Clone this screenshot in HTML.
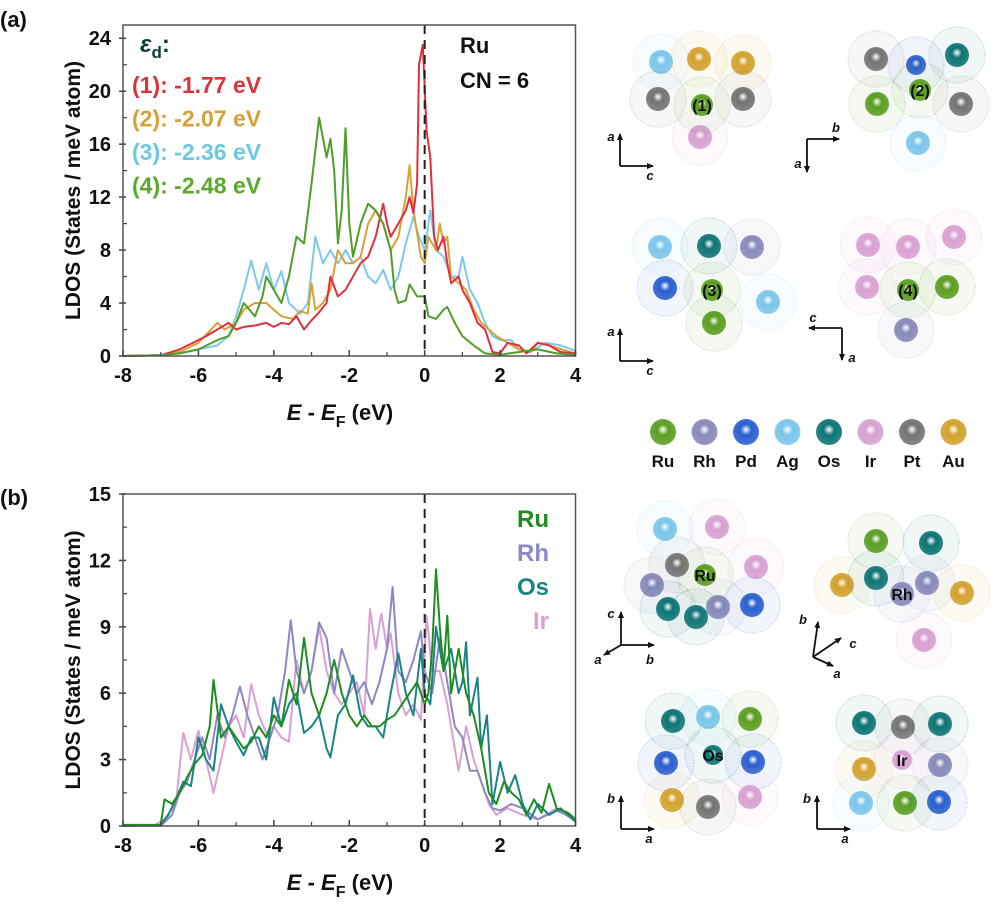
<!DOCTYPE html>
<html><head><meta charset="utf-8"><style>
body{margin:0;background:#fff}
svg{display:block;font-family:"Liberation Sans",Arial,sans-serif;font-weight:bold}
</style></head><body>
<svg id="fig" width="1000" height="923" viewBox="0 0 1000 923" xmlns="http://www.w3.org/2000/svg">
<defs id="defs">
<marker id="arr" markerWidth="8" markerHeight="8" refX="6" refY="4" orient="auto" markerUnits="userSpaceOnUse"><path d="M0,1 L7,4 L0,7 Z" fill="#111"/></marker>
</defs>
<g id="struct"></g>
<g id="panelA"></g>
<g id="panelB"></g>
</svg>
<script>
// ---------- Chart data ----------
const xTicks = [-8,-6,-4,-2,0,2,4];
const yTicksA = [0,4,8,12,16,20,24];
const yTicksB = [0,3,6,9,12,15];
const legendA = ["(1): -1.77 eV","(2): -2.07 eV","(3): -2.36 eV","(4): -2.48 eV"];
const legendB = ["Ru","Rh","Os","Ir"];
const dosA1 = [[-8,0],[-7,0.05],[-6.5,0.5],[-6,1.2],[-5.8,1.5],[-5.5,2],[-5.2,2.5],[-5,2],[-4.8,2.2],[-4.5,2.3],[-4.2,2.5],[-4,2.2],[-3.8,2.5],[-3.6,2.4],[-3.4,3],[-3.2,2],[-3,2.7],[-2.8,3.3],[-2.6,4],[-2.5,6],[-2.3,4.5],[-2.1,5],[-1.9,6],[-1.7,7],[-1.5,7.5],[-1.3,9],[-1.1,11.5],[-1,10],[-0.9,9],[-0.7,10],[-0.5,11],[-0.4,12],[-0.3,10.8],[-0.2,13],[-0.15,22],[-0.05,23.5],[0.05,17],[0.15,15],[0.25,9],[0.35,8],[0.5,9],[0.6,7],[0.7,5.5],[0.9,6],[1,5],[1.2,4],[1.4,2.5],[1.6,2],[1.8,0.3],[2,0.2],[2.2,1],[2.5,0.8],[2.7,0.2],[3,1],[3.3,0.8],[3.6,0.3],[4,0.2]];
const dosA2 = [[-8,0],[-7,0.05],[-6.5,0.3],[-6,1],[-5.5,2.5],[-5.3,2],[-5,2.5],[-4.8,3.5],[-4.5,4],[-4.2,4],[-4,3.5],[-3.8,3],[-3.5,2.8],[-3.3,3.4],[-3.1,3.2],[-3,5.5],[-2.9,3.5],[-2.7,4],[-2.5,5],[-2.3,8],[-2.1,7],[-1.9,7],[-1.7,7.5],[-1.5,10],[-1.3,11],[-1.1,10],[-0.9,8],[-0.7,9],[-0.5,12],[-0.4,14.4],[-0.3,11],[-0.1,7.5],[0,7],[0.1,9],[0.3,8],[0.4,10],[0.5,8.5],[0.6,9],[0.7,6],[0.9,5.5],[1.1,5],[1.3,3.5],[1.5,2.5],[1.7,2],[1.9,1.5],[2.2,1],[2.5,0.5],[2.8,0.3],[3,1],[3.3,0.8],[4,0.2]];
const dosA3 = [[-8,0],[-7,0.05],[-6.5,0.2],[-6,0.5],[-5.5,0.8],[-5.2,1.5],[-5,3],[-4.8,5],[-4.6,7.2],[-4.4,5],[-4.2,7],[-4,5],[-3.8,6.4],[-3.6,4],[-3.3,3.2],[-3.1,4],[-2.9,9],[-2.7,7],[-2.5,8],[-2.3,7],[-2.1,8],[-1.9,7],[-1.7,7.5],[-1.5,6],[-1.3,5.5],[-1.1,6.5],[-0.9,5],[-0.7,6],[-0.5,8.5],[-0.3,10.5],[-0.15,9],[0,8],[0.15,11],[0.3,8],[0.5,7.5],[0.7,6],[0.9,6],[1,7.5],[1.2,5],[1.4,4],[1.6,2.5],[1.8,1.5],[2,1.2],[2.3,1.2],[2.5,0.5],[2.8,0.3],[3.2,1],[3.6,0.8],[4,0.4]];
const dosA4 = [[-8,0],[-7,0.05],[-6.5,0.2],[-6,0.5],[-5.5,1.2],[-5.2,1.5],[-5,2.5],[-4.8,4],[-4.5,3],[-4.3,4.5],[-4.2,6],[-4,5],[-3.8,4],[-3.6,6],[-3.4,9],[-3.2,8.5],[-3,13],[-2.8,18],[-2.6,15],[-2.5,16.4],[-2.4,14],[-2.3,8.5],[-2.2,11],[-2.1,17.2],[-2,10],[-1.9,7.5],[-1.7,10],[-1.5,11.5],[-1.3,11],[-1.1,10],[-0.9,8],[-0.8,5],[-0.7,4],[-0.5,4.2],[-0.4,5.4],[-0.2,4.5],[0,4.5],[0.1,3],[0.3,2.8],[0.5,3.5],[0.6,3.7],[0.8,2.5],[1,1.5],[1.3,0.8],[1.6,0.2],[2,0.1],[2.5,0.3],[3,0.5],[3.5,0.2],[4,0.1]];
const dosRu = [[-8,0.05],[-7,0.05],[-6.9,1.2],[-6.7,1],[-6.5,1.5],[-6.3,2.2],[-6.1,2.8],[-5.9,3.2],[-5.7,4.5],[-5.6,6.6],[-5.4,4],[-5.2,4.5],[-5,4],[-4.8,3.5],[-4.6,3.8],[-4.4,4.5],[-4.2,4],[-4,5],[-3.8,4.5],[-3.6,6.6],[-3.4,5.5],[-3.2,8.5],[-3,6],[-2.8,5],[-2.6,6],[-2.4,7.5],[-2.2,6],[-2,5],[-1.8,4.5],[-1.6,5],[-1.4,4.5],[-1.2,4.5],[-1,4.8],[-0.8,5],[-0.6,5.5],[-0.4,6],[-0.2,6.5],[0,5.5],[0.1,6],[0.2,8],[0.3,11.6],[0.4,9],[0.5,7],[0.6,9.5],[0.7,6],[0.9,8],[1.1,6],[1.3,5],[1.5,3.5],[1.7,1.5],[1.9,1],[2.1,2],[2.3,1.5],[2.5,1.2],[2.7,0.5],[2.9,1.2],[3.1,0.6],[3.3,1.9],[3.5,0.8],[3.8,0.6],[4,0.3]];
const dosRh = [[-8,0],[-7,0],[-6.7,0.5],[-6.5,1.5],[-6.3,2],[-6.1,3],[-5.9,4],[-5.7,3],[-5.5,5],[-5.3,4],[-5.1,5],[-4.9,6.3],[-4.7,5],[-4.5,4],[-4.3,3],[-4.1,4],[-3.9,5],[-3.7,7],[-3.55,9.3],[-3.4,7],[-3.2,6],[-3,7],[-2.8,9.2],[-2.6,8.5],[-2.4,6],[-2.2,8],[-2,7],[-1.8,6],[-1.6,6.5],[-1.4,5.5],[-1.2,6.5],[-1,8],[-0.85,10.8],[-0.7,7],[-0.5,6.5],[-0.3,7.5],[-0.1,8.8],[0,7],[0.2,6],[0.4,8.5],[0.6,6.5],[0.8,4.5],[1,4],[1.2,2.5],[1.4,2.5],[1.6,1.5],[1.8,0.8],[2,0.7],[2.3,1],[2.6,0.8],[3,0.3],[3.5,0.7],[4,0.3]];
const dosOs = [[-8,0],[-7,0.05],[-6.8,0.5],[-6.6,1.2],[-6.4,2],[-6.2,1.8],[-6,4],[-5.8,3],[-5.6,2.5],[-5.4,5.5],[-5.2,4.5],[-5,3.8],[-4.8,3.2],[-4.6,4],[-4.4,4],[-4.2,3],[-4,5.8],[-3.8,4.5],[-3.6,5.5],[-3.4,6],[-3.2,4.2],[-3,4.5],[-2.8,5],[-2.6,3.5],[-2.5,3.1],[-2.3,5],[-2.1,5.5],[-1.9,6.8],[-1.7,5],[-1.5,4.5],[-1.3,4.5],[-1.1,4],[-0.9,6],[-0.7,7.8],[-0.5,6],[-0.3,5],[-0.1,8],[0,6],[0.15,5.5],[0.3,9],[0.5,7],[0.7,8],[0.9,6],[1,6.5],[1.1,8.3],[1.2,5],[1.4,6.7],[1.5,3.5],[1.65,5],[1.8,1],[2,2.9],[2.2,1.5],[2.4,2.3],[2.6,1],[2.8,0.3],[3,1],[3.3,0.5],[3.6,0.8],[4,0.2]];
const dosIr = [[-8,0],[-7.2,0],[-6.9,0.3],[-6.6,1],[-6.4,4.2],[-6.2,3],[-6,4.3],[-5.8,3],[-5.6,1.5],[-5.4,3],[-5.2,4.5],[-5,5],[-4.8,4],[-4.6,6.4],[-4.4,5],[-4.2,4.2],[-4,4.5],[-3.8,4],[-3.6,3.8],[-3.4,7.5],[-3.2,6],[-3,7],[-2.8,9],[-2.6,7],[-2.4,6],[-2.2,5.5],[-2,6],[-1.8,6.5],[-1.6,5],[-1.45,9.8],[-1.3,8],[-1.15,9.6],[-1,8],[-0.9,8.7],[-0.7,6],[-0.5,5],[-0.3,5.5],[-0.1,4.8],[0.05,9.5],[0.2,7],[0.4,7],[0.6,5.5],[0.8,3.5],[0.9,2.5],[1.1,4.5],[1.3,3],[1.5,2],[1.7,1],[1.9,0.5],[2.2,0.8],[2.6,0.5],[3,0.3],[3.5,0.8],[4,0.2]];

const NS="http://www.w3.org/2000/svg";
function mk(tag,attrs,parent){const e=document.createElementNS(NS,tag);for(const k in attrs)e.setAttribute(k,attrs[k]);if(parent)parent.appendChild(e);return e;}

function drawPanel(g,opt){
  const L=123,R=575.5,T=opt.top,B=opt.bottom;
  const xs=v=>L+(v+8)/12*(R-L);
  const ys=v=>B-v/opt.ymax*(B-T);
  opt.series.forEach(s=>{
    const d=s.data.map((p,j)=>(j?'L':'M')+xs(p[0]).toFixed(1)+','+ys(p[1]).toFixed(1)).join('');
    const p=mk('path',{d:d,fill:'none',stroke:s.color,'stroke-width':2,'stroke-linejoin':'round'},g);
    
    
  });
  const fl=mk('line',{x1:xs(0),x2:xs(0),y1:T,y2:B,stroke:'#222','stroke-width':2,'stroke-dasharray':'9,6'},g);
  
  
  const box=mk('rect',{x:L,y:T,width:R-L,height:B-T,fill:'none',stroke:'#555','stroke-width':1.5},g);
  
  
  xTicks.forEach(v=>{
    mk('line',{x1:xs(v),x2:xs(v),y1:B,y2:B-6,stroke:'#444','stroke-width':1.5},g);
    if(v<4) mk('line',{x1:xs(v+1),x2:xs(v+1),y1:B,y2:B-4,stroke:'#444','stroke-width':1.2},g);
    const t=mk('text',{x:xs(v),y:B+26,'text-anchor':'middle','font-size':20,fill:'#111'},g);
    t.textContent=v;
    
    
  });
  const yt=opt.yticks;
  yt.forEach((v,i)=>{
    mk('line',{x1:L-4,x2:L+3,y1:ys(v),y2:ys(v),stroke:'#444','stroke-width':1.5},g);
    if(i<yt.length-1){const m=(v+yt[i+1])/2;mk('line',{x1:L,x2:L+4,y1:ys(m),y2:ys(m),stroke:'#444','stroke-width':1.2},g);}
    const t=mk('text',{x:L-12,y:ys(v)+7,'text-anchor':'end','font-size':20,fill:'#111'},g);
    t.textContent=v;
    
    
  });
  const yt2=mk('text',{x:0,y:0,'text-anchor':'middle','font-size':21,fill:'#111',transform:'translate(80,'+((T+B)/2)+') rotate(-90)'},g);
  yt2.textContent='LDOS (States / meV atom)';
  
  
  const xt=mk('text',{x:340,y:B+64,'text-anchor':'middle','font-size':22,fill:'#111'},g);
  xt.innerHTML='<tspan font-style="italic">E</tspan> - <tspan font-style="italic">E</tspan><tspan font-size="16" dy="7">F</tspan><tspan dy="-7"> (eV)</tspan>';
  
  
}
const gA=document.getElementById('panelA'), gB=document.getElementById('panelB');
const colA=['#d8343c','#d4a03a','#6ec8e0','#5aaa2a'];
drawPanel(gA,{top:25,bottom:356,ymax:25,yticks:yTicksA,series:[
 {data:dosA3,color:'#7cc8ee',name:'series-3'},{data:dosA2,color:'#d9a038',name:'series-2'},
 {data:dosA1,color:'#e0303c',name:'series-1'},{data:dosA4,color:'#4e9e28',name:'series-4'}]});
drawPanel(gB,{top:494,bottom:826,ymax:15,yticks:yTicksB,series:[
 {data:dosIr,color:'#d8a0d4',name:'series-ir'},{data:dosRh,color:'#8c88c8',name:'series-rh'},
 {data:dosOs,color:'#1a8484',name:'series-os'},{data:dosRu,color:'#1f8c1f',name:'series-ru'}]});
let t=mk('text',{x:140,y:52,'font-size':24,fill:'#0c3b3a'},gA);
t.innerHTML='<tspan font-style="italic">ε</tspan><tspan font-size="17" dy="6">d</tspan><tspan dy="-6">:</tspan>';


legendA.forEach((s,i)=>{const e=mk('text',{x:132,y:93+i*33.5,'font-size':23,fill:colA[i]},gA);e.textContent=s;
 
 });
t=mk('text',{x:460,y:53,'font-size':22,fill:'#111'},gA);t.textContent='Ru';


t=mk('text',{x:460,y:88,'font-size':22,fill:'#111'},gA);t.textContent='CN = 6';


const colB=['#1f8c1f','#8c88c8','#1a8484','#d8a0d4'];
legendB.forEach((s,i)=>{const e=mk('text',{x:549,y:527+i*34,'text-anchor':'end','font-size':24,fill:colB[i]},gB);e.textContent=s;
 
 });
const fig=document.getElementById('fig');
t=mk('text',{x:0,y:27,'font-size':22,fill:'#111'},fig);t.textContent='(a)';


t=mk('text',{x:0,y:505,'font-size':22,fill:'#111'},fig);t.textContent='(b)';



// ---------- structures ----------
const elCol={Ru:'#5a9e22',Rh:'#8888bb',Pd:'#2a5fd0',Ag:'#7ac6ea',Os:'#0d7474',Ir:'#d8a0d2',Pt:'#737373',Au:'#d3a22e'};
const defs=document.getElementById('defs');
for(const k in elCol){
  const gr=mk('radialGradient',{id:'g'+k,cx:'0.5',cy:'0.45',r:'0.6',fx:'0.5',fy:'0.4'},defs);
  mk('stop',{offset:'0','stop-color':'#ffffff'},gr);
  mk('stop',{offset:'0.35','stop-color':elCol[k]},gr);
  mk('stop',{offset:'1','stop-color':elCol[k],'stop-opacity':'0.85'},gr);
}
const S=document.getElementById('struct');
function atom(el,x,y,r,label,halo){
  if(halo!==false){
    mk('circle',{cx:x,cy:y,r:28,fill:elCol[el],'fill-opacity':0.06,stroke:elCol[el],'stroke-opacity':0.25,'stroke-width':1.5,'stroke-dasharray':'1,1.5'},S);
  }
  const c=mk('circle',{cx:x,cy:y,r:r||12,fill:'url(#g'+el+')'},S);
  
  
  if(label){
    const tx=mk('text',{x:x,y:y+6,'text-anchor':'middle','font-size':16,fill:'#111'},S);
    tx.textContent=label;
    
    
  }
}
const clusters=[
 [['Ag',661,62],['Au',699,59],['Au',743,63],['Pt',658,99],['Pt',743,99],['Ir',700,137],['Ru',702,105,11,'(1)']],
 [['Pt',876,59],['Pd',916,65,10],['Os',957,55],['Ru',877,104],['Pt',961,104],['Ag',918,143],['Ru',920,90,11,'(2)']],
 [['Ag',660,247],['Os',709,246],['Rh',752,247],['Pd',665,288],['Ag',768,302],['Ru',714,323],['Ru',712,290,11,'(3)']],
 [['Ir',868,245],['Ir',908,247],['Ir',954,237],['Ir',867,287],['Ru',947,287],['Rh',906,330],['Ru',908,290,11,'(4)']],
 [['Ag',665,529],['Ir',717,527],['Pt',677,565],['Ir',756,567],['Rh',652,585],['Os',668,609],['Os',696,617],['Rh',718,607],['Pd',752,605],['Ru',705,575,11,'Ru']],
 [['Ru',876,541],['Os',931,543],['Au',842,585],['Os',876,578],['Rh',927,583],['Au',962,593],['Ir',924,640],['Rh',902,594,12,'Rh']],
 [['Os',673,721],['Ag',708,717],['Ru',750,719],['Pd',666,763],['Pd',753,762],['Au',672,800],['Pt',708,807],['Ir',750,797],['Os',713,755,10,'Os']],
 [['Os',864,723],['Pt',903,727],['Os',940,724],['Au',864,769],['Rh',940,765],['Ag',861,803],['Ru',905,803],['Pd',939,802],['Ir',902,760,10,'Ir']]
];
clusters.forEach(cl=>cl.forEach(a=>atom(a[0],a[1],a[2],a[3]||12,a[4])));

function axisArrow(x1,y1,x2,y2,lab,lx,ly){
  const l=mk('line',{x1:x1,y1:y1,x2:x2,y2:y2,stroke:'#111','stroke-width':1.8,'marker-end':'url(#arr)'},S);
  
  
  const tx=mk('text',{x:lx,y:ly,'font-size':13,'font-style':'italic',fill:'#111','text-anchor':'middle'},S);
  tx.textContent=lab;
  
  
}
axisArrow(620,166,620,134,'a',611,141); axisArrow(620,166,653,166,'c',650,180);
axisArrow(807,139,839,139,'b',836,132); axisArrow(807,139,807,172,'a',798,168);
axisArrow(620,361,620,329,'a',611,336); axisArrow(620,361,653,361,'c',650,375);
axisArrow(842,328,809,328,'c',813,322); axisArrow(842,328,842,360,'a',852,362);
axisArrow(621,645,621,612,'c',611,618); axisArrow(621,645,654,645,'b',650,664); axisArrow(621,645,604,655,'a',598,664);
axisArrow(813,657,818,622,'b',803,624); axisArrow(813,657,841,638,'c',853,648); axisArrow(813,657,833,666,'a',837,678);
axisArrow(621,829,621,796,'b',611,803); axisArrow(621,829,654,829,'a',649,843);
axisArrow(817,829,817,796,'b',807,803); axisArrow(817,829,850,829,'a',845,843);

// element legend
const legEls=['Ru','Rh','Pd','Ag','Os','Ir','Pt','Au'];
legEls.forEach((el,i)=>{
  const x=663+i*41.5;
  const c=mk('circle',{cx:x,cy:432,r:13,fill:'url(#g'+el+')'},S);
  
  
  const tx=mk('text',{x:x,y:467,'text-anchor':'middle','font-size':17,fill:'#111'},S);
  tx.textContent=el;
  
  
});
</script>
</body></html>
